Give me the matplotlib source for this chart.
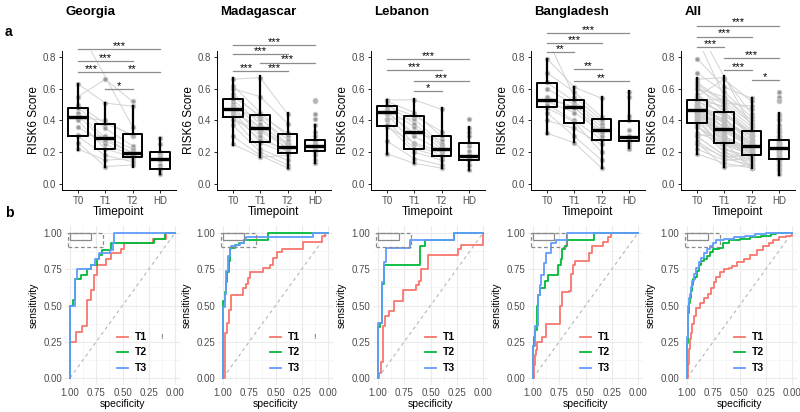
import numpy as np
import matplotlib
matplotlib.use("Agg")
import matplotlib.pyplot as plt
from matplotlib.patches import Rectangle

plt.rcParams['font.family'] = ['Liberation Sans', 'DejaVu Sans']

# ---- data: paired RISK6 scores (T0, T1, T2) and healthy donors (HD) ----
nan = float('nan')
timepoints = ['T0', 'T1', 'T2', 'HD']

geo_t0 = [0.99, 0.63, 0.55, 0.50, 0.48, 0.45, 0.43, 0.42, 0.40, 0.36, 0.31, 0.30, 0.26, 0.22]
geo_t1 = [nan, 0.51, 0.66, 0.38, 0.35, 0.29, 0.27, 0.40, 0.22, 0.25, 0.30, 0.18, 0.11, 0.15]
geo_t2 = [0.36, 0.49, 0.52, 0.31, 0.24, 0.19, 0.20, 0.30, 0.17, 0.18, 0.22, 0.14, 0.12, 0.16]
geo_hd = [0.29, 0.25, 0.20, 0.19, 0.17, 0.16, 0.15, 0.12, 0.10, 0.09, 0.06]

mad_t0 = [0.66, 0.62, 0.60, 0.57, 0.55, 0.53, 0.51, 0.49, 0.48, 0.47, 0.46, 0.45, 0.43, 0.42, 0.40, 0.37, 0.30, 0.25]
mad_t1 = [0.67, 0.45, 0.55, 0.42, 0.43, 0.38, 0.35, 0.30, 0.41, 0.33, 0.26, 0.36, 0.28, 0.22, 0.34, 0.20, 0.18, 0.17]
mad_t2 = [0.44, 0.30, 0.38, 0.25, 0.32, 0.24, 0.22, 0.20, 0.28, 0.23, 0.19, 0.26, 0.21, 0.15, 0.25, 0.12, 0.10, 0.18]
mad_hd = [0.53, 0.52, 0.44, 0.41, 0.37, 0.33, 0.30, 0.28, 0.27, 0.25, 0.24, 0.24, 0.23, 0.22, 0.21, 0.20, 0.18, 0.15, 0.13]

leb_t0 = [0.53, 0.52, 0.50, 0.49, 0.47, 0.46, 0.45, 0.44, 0.41, 0.40, 0.37, 0.36, 0.27, 0.19]
leb_t1 = [0.53, 0.45, 0.38, 0.43, 0.36, 0.30, 0.32, 0.25, 0.41, 0.22, 0.20, 0.26, 0.16, 0.13]
leb_t2 = [0.47, 0.30, 0.24, 0.33, 0.22, 0.21, 0.28, 0.18, 0.25, 0.17, 0.15, 0.20, 0.12, 0.10]
leb_hd = [0.41, 0.35, 0.33, 0.30, 0.26, 0.24, 0.21, 0.18, 0.17, 0.17, 0.16, 0.16, 0.15, 0.12, 0.09]

ban_t0 = [0.92, 0.79, 0.70, 0.64, 0.60, 0.55, 0.53, 0.52, 0.50, 0.48, 0.45, 0.40, 0.32]
ban_t1 = [0.55, 0.61, 0.58, 0.52, 0.50, 0.48, 0.49, 0.45, 0.40, 0.39, 0.30, 0.35, 0.26]
ban_t2 = [0.40, 0.54, 0.42, 0.38, 0.36, 0.34, 0.30, 0.33, 0.28, 0.20, 0.15, 0.25, 0.10]
ban_hd = [0.58, 0.55, 0.43, 0.40, 0.34, 0.30, 0.29, 0.28, 0.27, 0.26, 0.24, 0.22]

# box summaries: (q1, median, q3, whisker low, whisker high)
box_geo = [(0.305, 0.425, 0.48, 0.216, 0.63), (0.223, 0.29, 0.375, 0.11, 0.51),
           (0.168, 0.195, 0.315, 0.11, 0.49), (0.095, 0.16, 0.20, 0.06, 0.29)]
box_mad = [(0.42, 0.47, 0.535, 0.245, 0.665), (0.262, 0.35, 0.433, 0.17, 0.68),
           (0.195, 0.236, 0.314, 0.10, 0.445), (0.205, 0.24, 0.278, 0.13, 0.372)]
box_leb = [(0.367, 0.453, 0.493, 0.19, 0.53), (0.22, 0.327, 0.43, 0.13, 0.535),
           (0.174, 0.222, 0.304, 0.10, 0.478), (0.153, 0.174, 0.258, 0.09, 0.362)]
box_ban = [(0.484, 0.532, 0.636, 0.318, 0.79), (0.387, 0.484, 0.526, 0.262, 0.613),
           (0.277, 0.343, 0.407, 0.10, 0.547), (0.27, 0.297, 0.397, 0.225, 0.588)]
box_all = [(0.382, 0.466, 0.528, 0.19, 0.67), (0.257, 0.347, 0.455, 0.11, 0.678),
           (0.184, 0.242, 0.336, 0.10, 0.54), (0.159, 0.225, 0.278, 0.058, 0.445)]

# significance brackets: (from, to, height, label)
sig_geo = [(0, 3, 0.85, '***'), (0, 2, 0.773, '***'), (0, 1, 0.704, '***'),
           (1, 3, 0.704, '**'), (1, 2, 0.60, '*')]
sig_mad = [(0, 3, 0.875, '***'), (0, 2, 0.818, '***'), (1, 3, 0.765, '***'),
           (0, 1, 0.711, '***'), (1, 2, 0.711, '***')]
sig_leb = [(0, 3, 0.786, '***'), (0, 2, 0.715, '***'), (1, 3, 0.65, '***'),
           (1, 2, 0.583, '*')]
sig_ban = [(0, 3, 0.952, '***'), (0, 2, 0.89, '***'), (0, 1, 0.832, '**'),
           (1, 2, 0.723, '**'), (1, 3, 0.65, '**')]
sig_all = [(0, 3, 0.998, '***'), (0, 2, 0.929, '***'), (0, 1, 0.862, '***'),
           (1, 3, 0.795, '***'), (1, 2, 0.72, '***'), (2, 3, 0.653, '*')]

# ROC curves: (specificity, sensitivity) corners
roc_geo_t1 = [(1, 0), (1, 0.25), (0.94, 0.32), (0.89, 0.36), (0.84, 0.54), (0.80, 0.61), (0.77, 0.71),
              (0.74, 0.78), (0.66, 0.82), (0.61, 0.86), (0.51, 0.89), (0.49, 0.93), (0.21, 0.96),
              (0.085, 1.0), (0, 1.0)]
roc_geo_t2 = [(1, 0), (1, 0.5), (0.975, 0.54), (0.955, 0.68), (0.90, 0.71), (0.84, 0.75), (0.80, 0.78),
              (0.745, 0.82), (0.72, 0.85), (0.70, 0.88), (0.61, 0.93), (0.20, 0.96), (0.10, 1.0), (0, 1.0)]
roc_geo_t3 = [(1, 0), (1, 0.5), (0.95, 0.68), (0.93, 0.75), (0.80, 0.78), (0.76, 0.82), (0.72, 0.86),
              (0.62, 0.88), (0.59, 0.93), (0.58, 1.0), (0, 1.0)]

roc_mad_t1 = [(1, 0), (0.985, 0.19), (0.985, 0.31), (0.96, 0.38), (0.94, 0.47), (0.925, 0.57),
              (0.81, 0.62), (0.785, 0.65), (0.76, 0.69), (0.74, 0.73), (0.62, 0.76), (0.555, 0.78),
              (0.52, 0.83), (0.49, 0.87), (0.44, 0.89), (0.24, 0.94), (0.06, 0.98), (0.03, 1.0), (0, 1.0)]
roc_mad_t2 = [(1, 0), (1, 0.53), (0.985, 0.59), (0.97, 0.66), (0.96, 0.73), (0.94, 0.81), (0.93, 0.90),
              (0.89, 0.92), (0.85, 0.93), (0.80, 0.95), (0.57, 1.0), (0, 1.0)]
roc_mad_t3 = [(1, 0), (1, 0.49), (0.985, 0.58), (0.97, 0.74), (0.95, 0.84), (0.935, 0.89), (0.92, 0.91),
              (0.88, 0.92), (0.84, 0.93), (0.80, 0.95), (0.78, 0.97), (0.14, 1.0), (0, 1.0)]

roc_leb_t1 = [(1, 0), (0.99, 0.035), (0.97, 0.11), (0.955, 0.36), (0.935, 0.43), (0.90, 0.46),
              (0.85, 0.53), (0.76, 0.61), (0.64, 0.64), (0.61, 0.67), (0.59, 0.75), (0.52, 0.85),
              (0.24, 0.89), (0.21, 0.92), (0, 1.0)]
roc_leb_t2 = [(1, 0), (1, 0.35), (0.985, 0.38), (0.965, 0.65), (0.94, 0.78), (0.60, 0.91),
              (0.55, 0.95), (0.28, 1.0), (0, 1.0)]
roc_leb_t3 = [(1, 0), (1, 0.38), (0.965, 0.66), (0.945, 0.80), (0.925, 0.90), (0.70, 0.95),
              (0.28, 1.0), (0, 1.0)]

roc_ban_t1 = [(1, 0), (0.99, 0.09), (0.985, 0.16), (0.975, 0.19), (0.96, 0.25), (0.91, 0.28),
              (0.88, 0.37), (0.74, 0.50), (0.72, 0.59), (0.66, 0.60), (0.64, 0.72), (0.62, 0.78),
              (0.60, 0.81), (0.50, 0.81), (0.47, 0.86), (0.44, 0.91), (0.33, 0.94), (0.29, 0.97),
              (0.26, 1.0), (0, 1.0)]
roc_ban_t2 = [(1, 0), (1, 0.22), (0.995, 0.28), (0.985, 0.33), (0.96, 0.50), (0.95, 0.57), (0.93, 0.62),
              (0.89, 0.67), (0.86, 0.71), (0.765, 0.78), (0.73, 0.82), (0.72, 0.89), (0.70, 0.91),
              (0.68, 0.95), (0.415, 1.0), (0, 1.0)]
roc_ban_t3 = [(1, 0), (1, 0.22), (0.985, 0.36), (0.95, 0.57), (0.93, 0.64), (0.92, 0.71), (0.90, 0.79),
              (0.88, 0.86), (0.83, 0.93), (0.78, 0.95), (0.675, 1.0), (0, 1.0)]

roc_all_t1 = [(1, 0), (0.995, 0.10), (0.985, 0.20), (0.975, 0.27), (0.965, 0.31), (0.95, 0.37),
              (0.93, 0.43), (0.91, 0.48), (0.88, 0.52), (0.84, 0.55), (0.80, 0.58), (0.77, 0.62),
              (0.745, 0.66), (0.72, 0.70), (0.69, 0.73), (0.65, 0.75), (0.60, 0.76), (0.57, 0.77),
              (0.52, 0.80), (0.46, 0.82), (0.40, 0.85), (0.33, 0.88), (0.28, 0.91), (0.22, 0.93),
              (0.18, 0.95), (0.12, 0.97), (0.06, 0.98), (0.0, 1.0)]
roc_all_t2 = [(1, 0), (1, 0.24), (0.995, 0.35), (0.99, 0.45), (0.985, 0.52), (0.975, 0.55),
              (0.96, 0.60), (0.95, 0.64), (0.94, 0.68), (0.92, 0.70), (0.905, 0.74), (0.89, 0.78),
              (0.87, 0.81), (0.84, 0.82), (0.81, 0.84), (0.78, 0.87), (0.75, 0.89), (0.70, 0.90),
              (0.66, 0.93), (0.60, 0.95), (0.50, 0.96), (0.40, 0.97), (0.30, 0.98), (0.20, 0.99),
              (0.15, 1.0), (0, 1.0)]
roc_all_t3 = [(1, 0), (1, 0.28), (0.995, 0.40), (0.99, 0.50), (0.98, 0.55), (0.97, 0.58), (0.96, 0.63),
              (0.95, 0.67), (0.93, 0.72), (0.91, 0.76), (0.89, 0.80), (0.87, 0.83), (0.84, 0.86),
              (0.81, 0.89), (0.78, 0.91), (0.75, 0.93), (0.72, 0.95), (0.65, 0.96), (0.55, 0.97),
              (0.45, 0.98), (0.35, 0.99), (0.25, 1.0), (0, 1.0)]

# "All" pools every country
all_t0 = geo_t0 + mad_t0 + leb_t0 + ban_t0
all_t1 = geo_t1 + mad_t1 + leb_t1 + ban_t1
all_t2 = geo_t2 + mad_t2 + leb_t2 + ban_t2
all_hd = geo_hd + mad_hd + leb_hd + ban_hd

panels = [
    ('Georgia', geo_t0, geo_t1, geo_t2, geo_hd, box_geo, sig_geo, roc_geo_t1, roc_geo_t2, roc_geo_t3),
    ('Madagascar', mad_t0, mad_t1, mad_t2, mad_hd, box_mad, sig_mad, roc_mad_t1, roc_mad_t2, roc_mad_t3),
    ('Lebanon', leb_t0, leb_t1, leb_t2, leb_hd, box_leb, sig_leb, roc_leb_t1, roc_leb_t2, roc_leb_t3),
    ('Bangladesh', ban_t0, ban_t1, ban_t2, ban_hd, box_ban, sig_ban, roc_ban_t1, roc_ban_t2, roc_ban_t3),
    ('All', all_t0, all_t1, all_t2, all_hd, box_all, sig_all, roc_all_t1, roc_all_t2, roc_all_t3),
]

roc_colors = ['#F8766D', '#00BA38', '#619CFF']
roc_labels = ['T1', 'T2', 'T3']

W, H = 800, 412
fig = plt.figure(figsize=(8, 4.12), dpi=100)

box_left = [61.6, 216.6, 370.6, 530.6, 680.6]
roc_left = [64.75, 217.75, 372.75, 527.75, 681.75]


def px_axes(left, top, width, height):
    return fig.add_axes([left / W, 1 - (top + height) / H, width / W, height / H])


def box_panel(ax, t0, t1, t2, hd, stats, sigs):
    # paired lines
    for a, b, c in zip(t0, t1, t2):
        xs = [i for i, v in enumerate((a, b, c)) if not np.isnan(v)]
        ys = [v for v in (a, b, c) if not np.isnan(v)]
        ax.plot(xs, ys, color='#d2d2d2', lw=0.7, zorder=1)
    for i, vals in enumerate((t0, t1, t2, hd)):
        v = np.array(vals)
        v = v[~np.isnan(v)]
        ax.scatter(np.full(len(v), i), v, s=6, color='black', zorder=2, linewidths=0)
        ax.scatter(np.full(len(v), i), v, s=16, color='#bdbdbd', alpha=0.8, zorder=3, linewidths=0)
    bstats = [dict(q1=q1, med=m, q3=q3, whislo=lo, whishi=hi, fliers=[])
              for q1, m, q3, lo, hi in stats]
    ax.bxp(bstats, positions=range(4), widths=0.72, showcaps=False, patch_artist=False,
           boxprops=dict(color='black', lw=1.4), medianprops=dict(color='black', lw=2.4),
           whiskerprops=dict(color='black', lw=1.6), manage_ticks=False, zorder=4)
    for i, j, y, lab in sigs:
        ax.plot([i, j], [y, y], color='#8c8c8c', lw=0.9, clip_on=False, zorder=5)
        ax.text((i + j) / 2, y - 0.012, lab, ha='center', va='bottom', fontsize=8,
                color='black', clip_on=False)
    ax.set_xlim(-0.6, 3.6)
    ax.set_ylim(-0.04, 0.84)
    ax.set_xticks(range(4))
    ax.set_xticklabels(timepoints)
    ax.set_yticks([0, 0.2, 0.4, 0.6, 0.8])
    ax.set_yticklabels(['0.0', '0.2', '0.4', '0.6', '0.8'])
    ax.tick_params(labelsize=7, labelcolor='#4d4d4d', length=2.5, width=0.6, pad=1.5)
    for s in ['top', 'right']:
        ax.spines[s].set_visible(False)
    for s in ['left', 'bottom']:
        ax.spines[s].set_linewidth(0.7)
    ax.set_ylabel('RISK6 Score', fontsize=8.5, labelpad=2)
    ax.set_xlabel('Timepoint', fontsize=8.5, labelpad=0)


def roc_panel(ax, curves, show_mark):
    ticks = [0, 0.25, 0.5, 0.75, 1.0]
    ax.set_xlim(1.05, -0.05)
    ax.set_ylim(-0.05, 1.05)
    ax.set_xticks(ticks)
    ax.set_yticks(ticks)
    ax.set_xticks([0.125, 0.375, 0.625, 0.875], minor=True)
    ax.set_yticks([0.125, 0.375, 0.625, 0.875], minor=True)
    ax.set_xticklabels(['0.00', '0.25', '0.50', '0.75', '1.00'])
    ax.set_yticklabels(['0.00', '0.25', '0.50', '0.75', '1.00'])
    ax.grid(which='major', color='#ebebeb', lw=0.8)
    ax.grid(which='minor', color='#f3f3f3', lw=0.5)
    ax.set_axisbelow(True)
    ax.tick_params(which='both', length=0, labelsize=7, labelcolor='#4d4d4d', pad=2)
    for s in ax.spines.values():
        s.set_visible(False)
    ax.plot([1, 0], [0, 1], ls=(0, (3, 3)), color='#b5b5b5', lw=0.8, zorder=1)
    for pts, col in zip(curves, roc_colors):
        sp = [p[0] for p in pts]
        se = [p[1] for p in pts]
        ax.step(sp, se, where='post', color=col, lw=1.3, zorder=3)
    # legend drawn by hand
    for k, (lab, col) in enumerate(zip(roc_labels, roc_colors)):
        yy = 0.303 - k * 0.097
        ax.plot([0.455, 0.55], [yy, yy], color=col, lw=1.3, transform=ax.transAxes)
        ax.text(0.61, yy, lab, transform=ax.transAxes, fontsize=7.5, fontweight='bold',
                va='center', ha='left')
    # leftover boxes in the top-left corner
    ax.add_patch(Rectangle((0.045, 0.909), 0.182, 0.046, transform=ax.transAxes,
                           fill=False, ec='#8a8a8a', lw=0.9, zorder=5))
    ax.add_patch(Rectangle((0.03, 0.864), 0.297, 0.091, transform=ax.transAxes,
                           fill=False, ec='#8a8a8a', lw=0.9, ls=(0, (3, 2)), zorder=5))
    if show_mark:
        ax.text(0.84, 0.30, '!', transform=ax.transAxes, fontsize=6, color='#555555',
                va='center', ha='center')
    ax.set_ylabel('sensitivity', fontsize=7.5, labelpad=3)
    ax.set_xlabel('specificity', fontsize=7.5, labelpad=1)


for k, (title, t0, t1, t2, hd, stats, sigs, r1, r2, r3) in enumerate(panels):
    axb = px_axes(box_left[k], 50.65, 114.7, 139.7)
    box_panel(axb, t0, t1, t2, hd, stats, sigs)
    fig.text((box_left[k] + 4) / W, 1 - 12 / H, title, fontsize=9.5, fontweight='bold',
             ha='left', va='center')
    axr = px_axes(roc_left[k], 225.75, 115.5, 159.5)
    roc_panel(axr, [r1, r2, r3], k in (0, 1))

fig.text(5 / W, 1 - 32 / H, 'a', fontsize=10, fontweight='bold', va='center')
fig.text(5 / W, 1 - 213 / H, 'b', fontsize=10, fontweight='bold', va='center')

fig.savefig('out.png', dpi=100, facecolor='white')
